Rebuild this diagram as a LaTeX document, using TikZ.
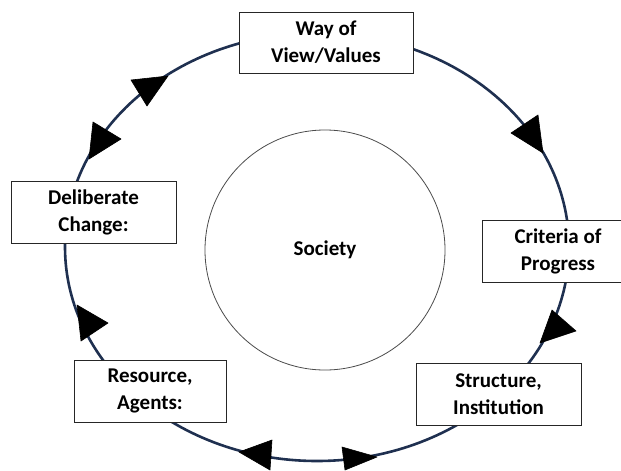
\documentclass[tikz,border=0pt]{standalone}
\usepackage{fontspec}
\setmainfont{Carlito}
\definecolor{navy}{HTML}{1F3050}
\begin{document}
\begin{tikzpicture}[x=1pt,y=-1pt,
  stage/.style={draw=black!85, line width=0.9pt, fill=white, align=center,
    inner sep=0pt, font=\bfseries\fontsize{21}{27}\selectfont},
  loop/.style={draw=navy, line width=2.6pt},
  head/.style={fill=black, draw=black, line width=0.6pt, line join=round}]
\useasboundingbox (0,0) rectangle (621,471);
\clip (0,0) rectangle (621,471);
\fill[white] (0,0) rectangle (621,471);

% the cycle
\coordinate (ring) at (317,247);
\draw[loop] (ring) ellipse [x radius=252pt, y radius=214pt];

% centre
\node[draw=black!70, line width=0.8pt, circle, minimum size=240pt, inner sep=0pt] (society) at (325,250) {};
\node[font=\bfseries\fontsize{21}{27}\selectfont] (societylabel) at (society) {Society};

% stages
\node[stage, minimum width=174pt, minimum height=61pt] (view) at (326,42.5) {Way of\\View/Values};
\node[stage, minimum width=152pt, minimum height=62pt] (criteria) at (558,251) {Criteria of\\Progress};
\node[stage, minimum width=165pt, minimum height=62pt] (structure) at (498.5,394) {Structure,\\Institution};
\node[stage, minimum width=152pt, minimum height=62pt] (resource) at (150,391) {Resource,\\Agents:};
\node[stage, minimum width=165pt, minimum height=62pt] (change) at (93.5,212) {Deliberate\\Change:};

% arrowheads along the cycle
\filldraw[head] (538,115) -- (511,133) -- (543,153) -- cycle;
\filldraw[head] (552,310) -- (576,331) -- (540,343) -- cycle;
\filldraw[head] (342,447) -- (377,457) -- (345,470) -- cycle;
\filldraw[head] (239,452) -- (272,440) -- (270,470) -- cycle;
\filldraw[head] (77,305) -- (108,323) -- (81,341) -- cycle;
\filldraw[head] (93,122) -- (121,139) -- (89,159) -- cycle;
\filldraw[head] (131,80) -- (168,76) -- (147,106) -- cycle;
\end{tikzpicture}
\end{document}
